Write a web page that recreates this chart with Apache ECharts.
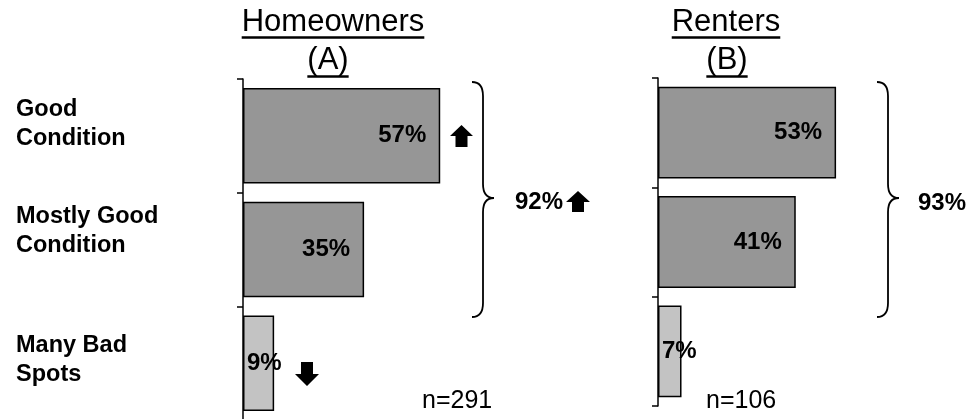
<!DOCTYPE html>
<html>
<head>
<meta charset="utf-8">
<script src="https://cdn.jsdelivr.net/npm/echarts@6/dist/echarts.min.js"></script>
<style>
  html, body { margin: 0; padding: 0; background: #ffffff; }
  #chart { width: 970px; height: 419px; }
</style>
</head>
<body>
<div id="chart"></div>
<script>
// Survey answers: condition of the home, by tenure
const categories = ['Good\nCondition', 'Mostly Good\nCondition', 'Many Bad\nSpots'];
const homeownersValues = [57, 35, 9];
const rentersValues = [53, 41, 7];
const groupTitles = ['Homeowners', 'Renters'];
const groupLetters = ['(A)', '(B)'];
const sampleSizes = ['n=291', 'n=106'];
const netLabels = ['92%', '93%'];   // Good + Mostly Good

const FONT = 'Arial, "Liberation Sans", sans-serif';
const DARK = '#969696';
const LIGHT = '#c3c3c3';

function barItems(values) {
  return values.map(function (v, i) {
    const small = v < 15;
    return {
      value: v,
      itemStyle: { color: i < 2 ? DARK : LIGHT },
      label: {
        position: small ? 'insideLeft' : 'insideRight',
        distance: small ? 4 : 14
      }
    };
  });
}

function barSeries(values, idx) {
  return {
    type: 'bar',
    xAxisIndex: idx,
    yAxisIndex: idx,
    data: barItems(values),
    barCategoryGap: '16%',
    itemStyle: { borderColor: '#000', borderWidth: 1.5 },
    label: {
      show: true,
      formatter: '{c}%',
      color: '#000',
      fontFamily: FONT,
      fontWeight: 'bold',
      fontSize: 24
    },
    emphasis: { disabled: true },
    silent: true,
    animation: false
  };
}

// per-label vertical nudge (spacer line height below the text)
const spacerHeights = [24, 36, 6];
const labelRich = {
  t: { fontFamily: FONT, fontWeight: 'bold', fontSize: 23.5, lineHeight: 29, color: '#000' }
};
spacerHeights.forEach(function (h, i) {
  labelRich['s' + i] = { fontSize: 4, lineHeight: h };
});

function catAxis(idx, showLabels) {
  return {
    type: 'category',
    gridIndex: idx,
    data: categories,
    inverse: true,
    axisLine: { show: true, lineStyle: { color: '#000', width: 1.5 } },
    axisTick: { show: true, length: 6, lineStyle: { color: '#000', width: 1.5 } },
    axisLabel: {
      show: showLabels,
      interval: 0,
      align: 'left',
      margin: 227,
      formatter: function (value, index) {
        return value.split('\n').map(function (l) { return '{t|' + l + '}'; }).join('\n') +
          '\n{s' + index + '| }';
      },
      rich: labelRich
    },
    splitLine: { show: false }
  };
}

function valAxis(idx) {
  return {
    type: 'value',
    gridIndex: idx,
    min: 0,
    max: 60,
    show: false,
    splitLine: { show: false }
  };
}

// ---- annotations ----
function measure(str, font) {
  const ctx = document.createElement('canvas').getContext('2d');
  ctx.font = font;
  return ctx.measureText(str).width;
}

const titleFont = '31px ' + FONT;
const titleSpecs = [
  { text: groupTitles[0], cx: 333, cy: 22, uy: 37.5 },
  { text: groupLetters[0], cx: 328, cy: 60, uy: 76.5 },
  { text: groupTitles[1], cx: 726, cy: 22, uy: 37.5 },
  { text: groupLetters[1], cx: 727, cy: 60, uy: 76.5 }
];

const graphics = [];
titleSpecs.forEach(function (s) {
  const w = measure(s.text, titleFont);
  graphics.push({
    type: 'text', x: s.cx, y: s.cy, silent: true,
    style: { text: s.text, font: titleFont, fill: '#000', align: 'center', verticalAlign: 'middle' }
  });
  graphics.push({
    type: 'line', silent: true,
    shape: { x1: s.cx - w / 2, y1: s.uy, x2: s.cx + w / 2, y2: s.uy },
    style: { stroke: '#000', lineWidth: 2.5 }
  });
});

// curly brace spanning the two "good" rows, built from quadratic curves and lines
function braceParts(x0) {
  const xv = x0 + 11, xt = x0 + 22;
  const st = { stroke: '#000', lineWidth: 1.8, fill: null };
  const curve = function (x1, y1, cx, cy, x2, y2) {
    return { type: 'bezierCurve', silent: true, shape: { x1: x1, y1: y1, cpx1: cx, cpy1: cy, x2: x2, y2: y2 }, style: st };
  };
  const line = function (x1, y1, x2, y2) {
    return { type: 'line', silent: true, shape: { x1: x1, y1: y1, x2: x2, y2: y2 }, style: st };
  };
  return [
    curve(x0, 82, xv, 82, xv, 96),
    line(xv, 96, xv, 184),
    curve(xv, 184, xv, 198, xt, 198),
    curve(xt, 198, xv, 198, xv, 212),
    line(xv, 212, xv, 303),
    curve(xv, 303, xv, 317, x0, 317)
  ];
}
[472, 877].forEach(function (x0) {
  braceParts(x0).forEach(function (p) { graphics.push(p); });
});

// block arrows marking significant differences
function arrowPoints(left, top, w, h, stemW, headH, dir) {
  const cx = left + w / 2, sl = cx - stemW / 2, sr = cx + stemW / 2;
  if (dir === 'up') {
    const hb = top + headH;
    return [[cx, top], [left + w, hb], [sr, hb], [sr, top + h], [sl, top + h], [sl, hb], [left, hb]];
  }
  const hb = top + h - headH;
  return [[sl, top], [sr, top], [sr, hb], [left + w, hb], [cx, top + h], [left, hb], [sl, hb]];
}
[
  [450, 125, 23, 22, 12, 11, 'up'],
  [566, 191, 24, 21, 12, 11, 'up'],
  [295, 362, 24, 24, 12, 12, 'down']
].forEach(function (a) {
  graphics.push({
    type: 'polygon', silent: true,
    shape: { points: arrowPoints.apply(null, a) },
    style: { fill: '#000' }
  });
});

// net totals next to the braces
[[515, 202], [918, 203]].forEach(function (p, i) {
  graphics.push({
    type: 'text', x: p[0], y: p[1], silent: true,
    style: { text: netLabels[i], font: 'bold 24px ' + FONT, fill: '#000', align: 'left', verticalAlign: 'middle' }
  });
});

// sample sizes
[[422, 401], [706, 401]].forEach(function (p, i) {
  graphics.push({
    type: 'text', x: p[0], y: p[1], silent: true,
    style: { text: sampleSizes[i], font: '25px ' + FONT, fill: '#000', align: 'left', verticalAlign: 'middle' }
  });
});

const chart = echarts.init(document.getElementById('chart'), null, { renderer: 'canvas' });
chart.setOption({
  backgroundColor: '#ffffff',
  animation: false,
  grid: [
    { left: 243, top: 79, width: 207.6, height: 341, outerBoundsMode: 'none', containLabel: false },
    { left: 658, top: 78, width: 201.6, height: 328, outerBoundsMode: 'none', containLabel: false }
  ],
  xAxis: [valAxis(0), valAxis(1)],
  yAxis: [catAxis(0, true), catAxis(1, false)],
  series: [barSeries(homeownersValues, 0), barSeries(rentersValues, 1)],
  graphic: graphics
});
</script>
</body>
</html>
